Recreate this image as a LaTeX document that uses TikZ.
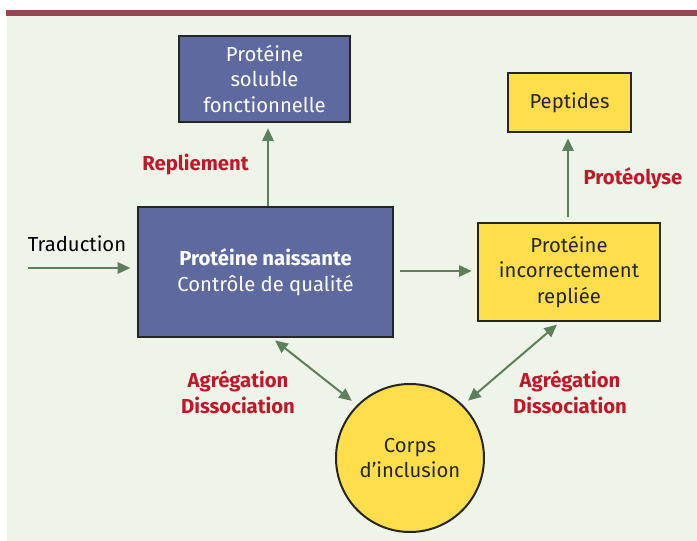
\documentclass[tikz,border=0pt]{standalone}
\usepackage{fontspec}
\setmainfont{Fira Sans}
\usetikzlibrary{positioning,arrows.meta,calc}
\definecolor{fondvert}{HTML}{EEF4E8}
\definecolor{barre}{HTML}{9B4552}
\definecolor{bleu}{HTML}{5E6A9F}
\definecolor{jaune}{HTML}{FFDE4B}
\definecolor{fleche}{HTML}{5C7F5C}
\definecolor{rouge}{HTML}{C0182A}

\begin{document}
\begin{tikzpicture}[
    x=0.75pt, y=-0.75pt,
    font=\fontsize{15.2}{19.2}\selectfont,
    bluebox/.style={rectangle, draw=black!85, line width=1.5pt, fill=bleu, text=white, align=center, inner sep=0pt},
    yellowbox/.style={rectangle, draw=black!85, line width=1.5pt, fill=jaune, text=black!85, align=center, inner sep=0pt},
    label/.style={font=\fontsize{15.2}{19.2}\selectfont\bfseries, text=rouge, align=center},
    arrow/.style={draw=fleche, line width=1.5pt, -{Triangle[length=9.5pt,width=8.5pt]}},
    darrow/.style={draw=fleche, line width=1.5pt, {Triangle[length=9.5pt,width=8.5pt]}-{Triangle[length=9.5pt,width=8.5pt]}}
]
    \useasboundingbox (0,0) rectangle (697,541);
    \fill[white] (0,0) rectangle (697,541);
    \fill[fondvert] (7,16) rectangle (697,541);
    \fill[barre] (6,10) rectangle (697,16);

    % boites
    \node[bluebox, minimum width=171*0.75pt, minimum height=86*0.75pt] (soluble) at (264.5,79) {Protéine\\soluble\\fonctionnelle};
    \node[bluebox, minimum width=255*0.75pt, minimum height=130*0.75pt] (naissante) at (265.5,272) {\textbf{Protéine naissante}\\Contrôle de qualité};
    \node[yellowbox, minimum width=123*0.75pt, minimum height=59*0.75pt] (peptides) at (569.5,102.5) {Peptides};
    \node[yellowbox, minimum width=182*0.75pt, minimum height=98*0.75pt] (mal) at (569,272) {Protéine\\incorrectement\\repliée};
    \node[circle, draw=black!85, line width=1.5pt, fill=jaune, text=black!85, align=center, minimum size=148*0.75pt, inner sep=0pt] (corps) at (410,458) {Corps\\d’inclusion};

    % etiquettes
    \node (traduction) at (77,244) {Traduction};
    \coordinate (depart) at (28,268);
    \node[label] (repliement) at (195.5,165) {Repliement};
    \node[label] (proteolyse) at (633,178) {Protéolyse};
    \node[label] (agg1) at (238,392) {Agrégation\\Dissociation};
    \node[label] (agg2) at (570,392) {Agrégation\\Dissociation};

    % fleches
    \draw[arrow, shorten >=5pt] (depart) -- (depart -| naissante.west);
    \draw[arrow, shorten <=0pt, shorten >=4pt] ($(naissante.north)+(2.5,0)$) -- ($(soluble.south)+(3.5,0)$);
    \draw[arrow, shorten <=4.5pt, shorten >=4pt] ($(naissante.east)+(0,-1)$) -- ($(mal.west)+(0,-1)$);
    \draw[arrow, shorten <=4pt, shorten >=4pt] ($(mal.north)+(-1,0)$) -- ($(peptides.south)+(-1.5,0)$);
    \draw[darrow, shorten <=3pt, shorten >=5pt] ($(naissante.south)+(6.5,0)$) -- (corps.135);
    \draw[darrow, shorten <=3pt, shorten >=5pt] ($(mal.south)+(-9,0)$) -- (corps.45);
\end{tikzpicture}
\end{document}
